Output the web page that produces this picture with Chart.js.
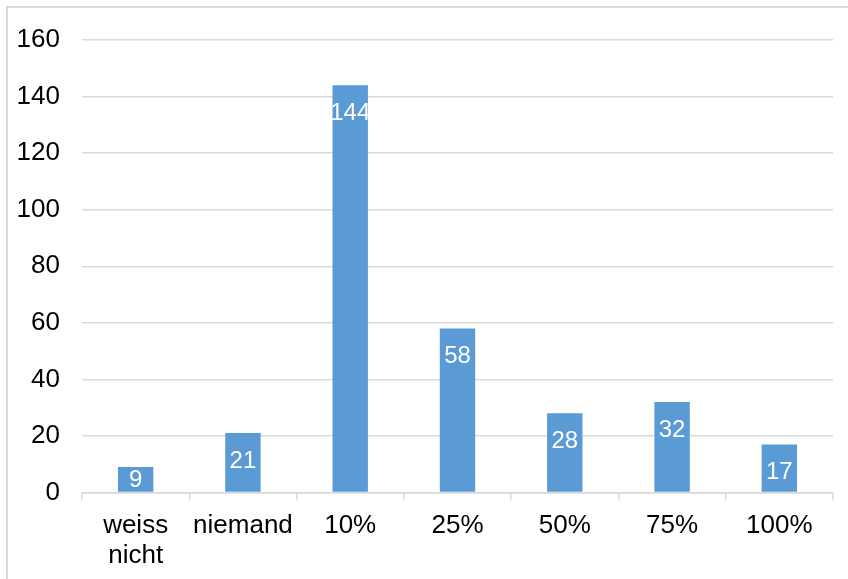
<!DOCTYPE html>
<html>
<head>
<meta charset="utf-8">
<title>Anteil</title>
<script src="https://cdn.jsdelivr.net/npm/chart.js@4/dist/chart.umd.min.js"></script>
<style>
  html, body { margin: 0; padding: 0; background: #fff; }
  #wrap { position: relative; width: 848px; height: 579px; }
</style>
</head>
<body>
<div id="wrap"><canvas id="shareChart"></canvas></div>
<script>
// categories and counts
const categories = [['weiss', 'nicht'], 'niemand', '10%', '25%', '50%', '75%', '100%'];
const counts = [9, 21, 144, 58, 28, 32, 17];
const yTicks = [0, 20, 40, 60, 80, 100, 120, 140, 160];

const barColor = '#5B9BD5';
const gridColor = '#d9d9d9';
const fontFamily = '"Liberation Sans", Arial, sans-serif';

// light frame along the top and left edge
const framePlugin = {
    id: 'frame',
    beforeDraw(chart) {
        const c = chart.ctx;
        c.save();
        c.strokeStyle = gridColor;
        c.lineWidth = 2;
        c.beginPath();
        c.moveTo(7, chart.height);
        c.lineTo(7, 7);
        c.lineTo(chart.width, 7);
        c.stroke();
        c.restore();
    }
};

// white value labels near the top of each bar
const valueLabels = {
    id: 'valueLabels',
    afterDatasetsDraw(chart) {
        const c = chart.ctx;
        const meta = chart.getDatasetMeta(0);
        c.save();
        c.fillStyle = '#ffffff';
        c.font = '24px ' + fontFamily;
        c.textAlign = 'center';
        c.textBaseline = 'middle';
        meta.data.forEach((bar, i) => {
            const y = Math.min(bar.y + 28, bar.base - 11);
            c.fillText(String(counts[i]), bar.x, y);
        });
        c.restore();
    }
};

const ctx = document.getElementById('shareChart');
new Chart(ctx, {
    type: 'bar',
    data: {
        labels: categories,
        datasets: [{
            data: counts,
            backgroundColor: barColor,
            borderWidth: 0,
            barPercentage: 0.33,
            categoryPercentage: 1
        }]
    },
    options: {
        responsive: true,
        maintainAspectRatio: false,
        animation: false,
        events: [],
        layout: { padding: { top: 40, right: 15, bottom: 0, left: 0 } },
        plugins: {
            legend: { display: false },
            tooltip: { enabled: false }
        },
        scales: {
            x: {
                grid: {
                    offset: true,
                    drawOnChartArea: false,
                    color: gridColor,
                    lineWidth: 1.5,
                    tickLength: 8
                },
                border: { color: gridColor, width: 1.5 },
                ticks: {
                    color: '#000',
                    font: { family: fontFamily, size: 26, lineHeight: 1.15 },
                    padding: 10,
                    maxRotation: 0,
                    autoSkip: false
                },
                afterFit(scale) { scale.height = 86.5; }
            },
            y: {
                min: 0,
                max: 160,
                afterBuildTicks(scale) { scale.ticks = yTicks.map(v => ({ value: v })); },
                grid: { color: gridColor, lineWidth: 1.5, drawTicks: false },
                border: { display: false },
                ticks: {
                    color: '#000',
                    font: { family: fontFamily, size: 26 },
                    padding: 22
                },
                afterFit(scale) { scale.width = 82; }
            }
        }
    },
    plugins: [framePlugin, valueLabels]
});
</script>
</body>
</html>
